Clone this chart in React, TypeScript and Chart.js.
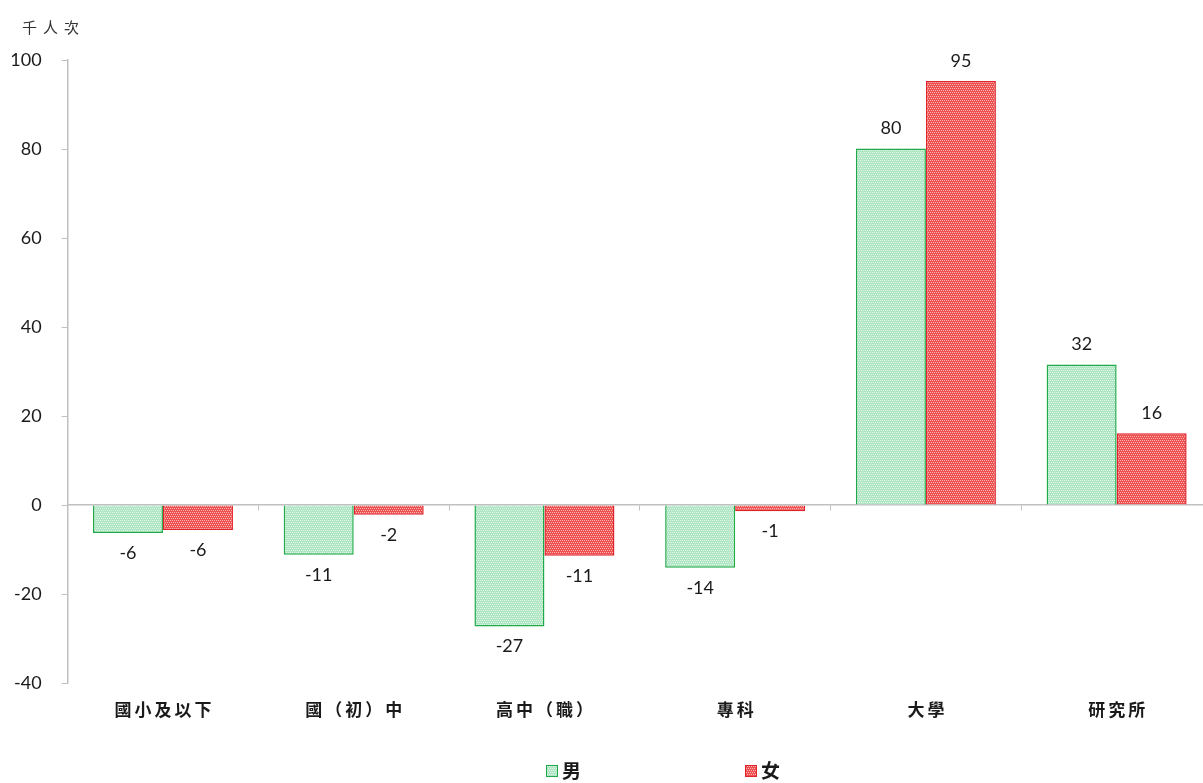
import React, { useEffect, useRef } from "react";
import { Chart, registerables } from "chart.js";

Chart.register(...registerables);

const categories = ["國小及以下", "國（初）中", "高中（職）", "專科", "大學", "研究所"];
const maleValues = [-6.3, -11.2, -27.3, -14.1, 80.1, 31.6];
const femaleValues = [-5.6, -2.2, -11.4, -1.4, 95.3, 16.1];
const seriesNames = ["男", "女"];
const unitLabel = "千人次";
const yMin = -40;
const yMax = 100;
const yStep = 20;

const CJK = '"Noto Sans CJK TC", "Noto Sans CJK SC", sans-serif';
const NUM = 'Lato, "Open Sans", sans-serif';

function makePattern(bg: string, dot: string): CanvasPattern | string {
  const c = document.createElement("canvas");
  c.width = 4;
  c.height = 4;
  const g = c.getContext("2d");
  if (!g) return bg;
  g.fillStyle = bg;
  g.fillRect(0, 0, 4, 4);
  g.fillStyle = dot;
  g.fillRect(0, 0, 1, 1);
  g.fillRect(2, 0, 1, 1);
  g.fillRect(1, 2, 1, 1);
  g.fillRect(3, 2, 1, 1);
  const p = g.createPattern(c, "repeat");
  return p || bg;
}

export default function App() {
  const ref = useRef<HTMLCanvasElement | null>(null);

  useEffect(() => {
    if (!ref.current) return;
    const greenFill = makePattern("#aee6c4", "#e2f7ea");
    const redFill = makePattern("#ee4f4f", "#fab8b8");
    const greenBorder = "#1faa4a";
    const redBorder = "#e3232a";

    const spacingPlugin = {
      id: "xLabelSpacing",
      afterLayout(chart: any) {
        const xs = chart.scales.x;
        if (xs && !xs.__patched) {
          const orig = xs.drawLabels.bind(xs);
          xs.drawLabels = (area: any) => {
            const ctx = chart.ctx;
            ctx.save();
            (ctx as any).letterSpacing = "3px";
            ctx.translate(1.5, 0);
            orig(area);
            ctx.restore();
          };
          xs.__patched = true;
        }
      },
    };

    const labelsPlugin = {
      id: "valueLabels",
      afterDatasetsDraw(chart: any) {
        const ctx = chart.ctx;
        ctx.save();
        ctx.font = `18px ${NUM}`;
        ctx.fillStyle = "#1a1a1a";
        ctx.textAlign = "center";
        ctx.textBaseline = "middle";
        chart.data.datasets.forEach((ds: any, i: number) => {
          const meta = chart.getDatasetMeta(i);
          meta.data.forEach((el: any, j: number) => {
            const v = ds.data[j] as number;
            const txt = String(Math.round(v));
            const y = v >= 0 ? el.y - 20 : el.y + 20;
            ctx.fillText(txt, el.x, y);
          });
        });
        ctx.restore();
      },
    };

    const extrasPlugin = {
      id: "extras",
      afterDraw(chart: any) {
        const ctx = chart.ctx;
        ctx.save();
        ctx.font = `15px ${CJK}`;
        ctx.fillStyle = "#333";
        ctx.textAlign = "left";
        ctx.textBaseline = "middle";
        (ctx as any).letterSpacing = "6px";
        ctx.fillText(unitLabel, 22, 27);
        (ctx as any).letterSpacing = "0px";
        const items = [
          { name: seriesNames[0], fill: greenFill, border: greenBorder, x: 546 },
          { name: seriesNames[1], fill: redFill, border: redBorder, x: 745 },
        ];
        const cy = 771;
        items.forEach((it) => {
          ctx.fillStyle = it.fill as any;
          ctx.fillRect(it.x, cy - 6, 12, 12);
          ctx.strokeStyle = it.border;
          ctx.lineWidth = 1;
          ctx.strokeRect(it.x + 0.5, cy - 5.5, 11, 11);
          ctx.font = `bold 19px ${CJK}`;
          ctx.fillStyle = "#1a1a1a";
          ctx.textAlign = "left";
          ctx.textBaseline = "middle";
          ctx.fillText(it.name, it.x + 16, cy);
        });
        ctx.restore();
      },
    };

    const chart = new Chart(ref.current, {
      type: "bar",
      data: {
        labels: categories,
        datasets: [
          {
            label: seriesNames[0],
            data: maleValues,
            backgroundColor: greenFill as any,
            borderColor: greenBorder,
            borderWidth: 1.5,
            barPercentage: 1,
            categoryPercentage: 0.734,
          },
          {
            label: seriesNames[1],
            data: femaleValues,
            backgroundColor: redFill as any,
            borderColor: redBorder,
            borderWidth: 1.5,
            barPercentage: 1,
            categoryPercentage: 0.734,
          },
        ],
      },
      options: {
        responsive: false,
        animation: false,
        layout: { padding: { top: 60, left: 0, right: 0, bottom: 0 } },
        plugins: {
          legend: { display: false },
          tooltip: { enabled: false },
        },
        scales: {
          x: {
            type: "category",
            position: "bottom",
            offset: true,
            grid: { display: false, drawTicks: false },
            border: { display: false },
            ticks: {
              padding: 16,
              color: "#1a1a1a",
              font: { family: CJK, size: 17, weight: "bold" },
              maxRotation: 0,
              autoSkip: false,
            },
            afterFit(scale: any) {
              scale.height = 100;
            },
          },
          x2: {
            type: "category",
            labels: categories,
            offset: true,
            position: { y: 0 } as any,
            grid: {
              display: true,
              offset: true,
              drawOnChartArea: false,
              drawTicks: true,
              tickLength: 5,
              color: "#c0c0c0",
            },
            border: { display: true, color: "#c0c0c0", width: 1.5 },
            ticks: { display: false },
          },
          y: {
            min: yMin,
            max: yMax,
            ticks: {
              stepSize: yStep,
              padding: 20,
              color: "#1a1a1a",
              font: { family: NUM, size: 18 },
            },
            grid: {
              display: true,
              drawOnChartArea: false,
              drawTicks: true,
              tickLength: 6,
              color: "#c0c0c0",
            },
            border: { display: true, color: "#c0c0c0", width: 1.5 },
            afterFit(scale: any) {
              scale.width = 67.6;
            },
          },
        },
      },
      plugins: [spacingPlugin, labelsPlugin, extrasPlugin],
    });
    return () => chart.destroy();
  }, []);

  return (
    <div
      style={{
        position: "absolute",
        left: 0,
        top: 0,
        width: 1203,
        height: 783,
        overflow: "hidden",
        background: "#fff",
      }}
    >
      <canvas ref={ref} width={1212} height={783} style={{ width: 1212, height: 783, display: "block" }} />
    </div>
  );
}
